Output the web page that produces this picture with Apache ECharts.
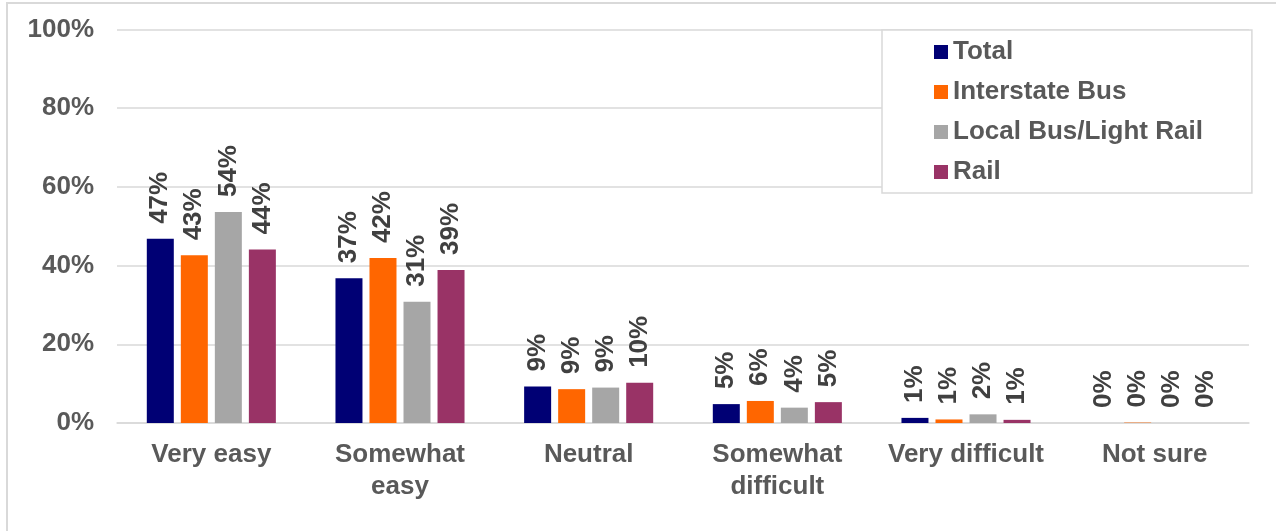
<!DOCTYPE html>
<html>
<head>
<meta charset="utf-8">
<script src="https://cdn.jsdelivr.net/npm/echarts@6/dist/echarts.min.js"></script>
<style>
  html, body { margin: 0; padding: 0; background: #ffffff; }
  #chart { width: 1276px; height: 531px; }
</style>
</head>
<body>
<div id="chart"></div>
<script>
// Ease of the trip, by transit mode (share of respondents, %)
const categories = ['Very easy', 'Somewhat\neasy', 'Neutral', 'Somewhat\ndifficult', 'Very difficult', 'Not sure'];
const total         = [46.8, 36.8, 9.3, 4.8, 1.3, 0.0];
const interstateBus = [42.6, 41.9, 8.6, 5.6, 0.9, 0.1];
const localBusRail  = [53.6, 30.8, 9.0, 3.9, 2.2, 0.0];
const rail          = [44.1, 38.9, 10.2, 5.3, 0.8, 0.0];
const yTicks = [0, 20, 40, 60, 80, 100];

const seriesDefs = [
  { name: 'Total', data: total, color: '#000074' },
  { name: 'Interstate Bus', data: interstateBus, color: '#FF6600' },
  { name: 'Local Bus/Light Rail', data: localBusRail, color: '#A6A6A6' },
  { name: 'Rail', data: rail, color: '#993366' }
];

const FONT = 'Liberation Sans, Arial, sans-serif';
const chart = echarts.init(document.getElementById('chart'), null, { renderer: 'canvas' });

chart.setOption({
  animation: false,
  backgroundColor: '#ffffff',
  graphic: [{
    type: 'rect',
    silent: true,
    z: -10,
    shape: { x: 7, y: 3, width: 1320, height: 620 },
    style: { fill: 'none', stroke: '#d9d9d9', lineWidth: 2 }
  }],
  grid: { left: 117, right: 27, top: 29.5, bottom: 108, containLabel: false },
  legend: {
    orient: 'vertical',
    left: 882,
    top: 30,
    padding: [9, 49, 8, 52],
    itemWidth: 14,
    itemHeight: 14,
    itemGap: 14,
    icon: 'rect',
    backgroundColor: '#ffffff',
    borderColor: '#d9d9d9',
    borderWidth: 1.5,
    z: 10,
    textStyle: { fontFamily: FONT, fontSize: 26, fontWeight: 'bold', color: '#595959', lineHeight: 25 },
    data: seriesDefs.map(s => s.name)
  },
  xAxis: {
    type: 'category',
    data: categories,
    axisTick: { show: false },
    axisLine: { show: true, lineStyle: { color: '#d9d9d9', width: 1.5 } },
    axisLabel: {
      margin: 16,
      fontFamily: FONT, fontSize: 26, fontWeight: 'bold', color: '#595959',
      lineHeight: 32, interval: 0
    }
  },
  yAxis: {
    type: 'value',
    min: yTicks[0],
    max: yTicks[yTicks.length - 1],
    interval: yTicks[1] - yTicks[0],
    axisLine: { show: false },
    axisTick: { show: false },
    splitLine: { lineStyle: { color: '#d9d9d9', width: 1.5 } },
    axisLabel: {
      margin: 23,
      formatter: '{value}%',
      fontFamily: FONT, fontSize: 26, fontWeight: 'bold', color: '#595959'
    }
  },
  series: seriesDefs.map(s => ({
    name: s.name,
    type: 'bar',
    data: s.data,
    barWidth: 27,
    barGap: '26%',
    itemStyle: { color: s.color },
    label: {
      show: true,
      position: 'top',
      rotate: 90,
      align: 'left',
      verticalAlign: 'middle',
      distance: 15,
      formatter: p => Math.round(p.value) + '%',
      fontFamily: FONT, fontSize: 26, fontWeight: 'bold', color: '#404040'
    }
  }))
});
</script>
</body>
</html>
